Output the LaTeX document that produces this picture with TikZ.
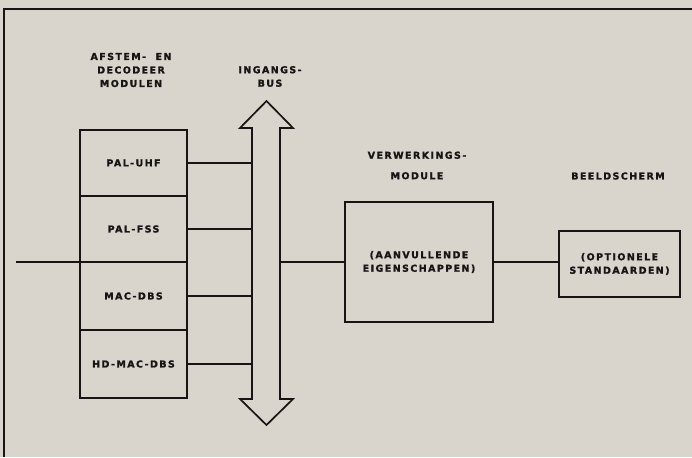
\documentclass[tikz,border=0pt]{standalone}
\usepackage{fontspec}
\newfontfamily\plotfont[LetterSpace=15, BoldFeatures={FakeBold=1.3}]{DejaVu Sans}
\definecolor{paper}{RGB}{217,213,204}
\definecolor{ink}{RGB}{22,20,20}
\begin{document}
\begin{tikzpicture}[x=1pt,y=-1pt,
  every node/.style={font=\plotfont\bfseries\fontsize{9.5}{13.5}\selectfont, text=ink},
  box/.style={draw=ink, line width=1.7pt, inner sep=0pt},
  modbox/.style={box, minimum width=107pt},
  wire/.style={draw=ink, line width=1.8pt},
  lbl/.style={align=center, inner sep=0pt}]
\fill[paper] (0,0) rectangle (692,457);
\useasboundingbox (0,0) rectangle (692,457);
% frame
\draw[ink, line width=2pt] (3.5,457) -- (3.5,9) -- (692,9);
% modules
\node[modbox, minimum height=66pt] (uhf) at (133.5,163) {PAL-UHF};
\node[modbox, minimum height=66pt] (fss) at (133.5,229) {PAL-FSS};
\node[modbox, minimum height=68pt] (mac) at (133.5,296) {MAC-DBS};
\node[modbox, minimum height=68pt] (hd) at (133.5,364) {HD-MAC-DBS};
% labels
\node[lbl] (lmod) at (131,70) {AFSTEM-\ \ EN\\DECODEER\\MODULEN};
\node[lbl] (lbus) at (270,76.5) {INGANGS-\\BUS};
\node[lbl] (lver) at (417,165.5) {VERWERKINGS-\\[7pt]MODULE};
\node[lbl] (lbee) at (618,176) {BEELDSCHERM};
% bus arrow
\draw[ink, line width=1.7pt, line join=miter]
  (266.5,101) -- (293,128) -- (280,128) -- (280,399) -- (293,399) -- (266.5,425)
  -- (240,399) -- (252,399) -- (252,128) -- (240,128) -- cycle;
\coordinate (busL) at (252,0);
\coordinate (busR) at (280,262);
\coordinate (inp) at (16,262);
% processing and display
\node[box, minimum width=148pt, minimum height=120pt, lbl] (proc) at (419,262) {(AANVULLENDE\\EIGENSCHAPPEN)};
\node[box, minimum width=121pt, minimum height=66pt, lbl] (disp) at (619.5,264) {(OPTIONELE\\STANDAARDEN)};
% connectors
\draw[wire] (uhf.east) -- (uhf.east -| busL);
\draw[wire] (fss.east) -- (fss.east -| busL);
\draw[wire] (mac.east) -- (mac.east -| busL);
\draw[wire] (hd.east) -- (hd.east -| busL);
\draw[wire] (inp) -- (inp -| uhf.west);
\draw[wire] (busR) -- (busR -| proc.west);
\draw[wire] (busR -| proc.east) -- (busR -| disp.west);
\end{tikzpicture}
\end{document}
